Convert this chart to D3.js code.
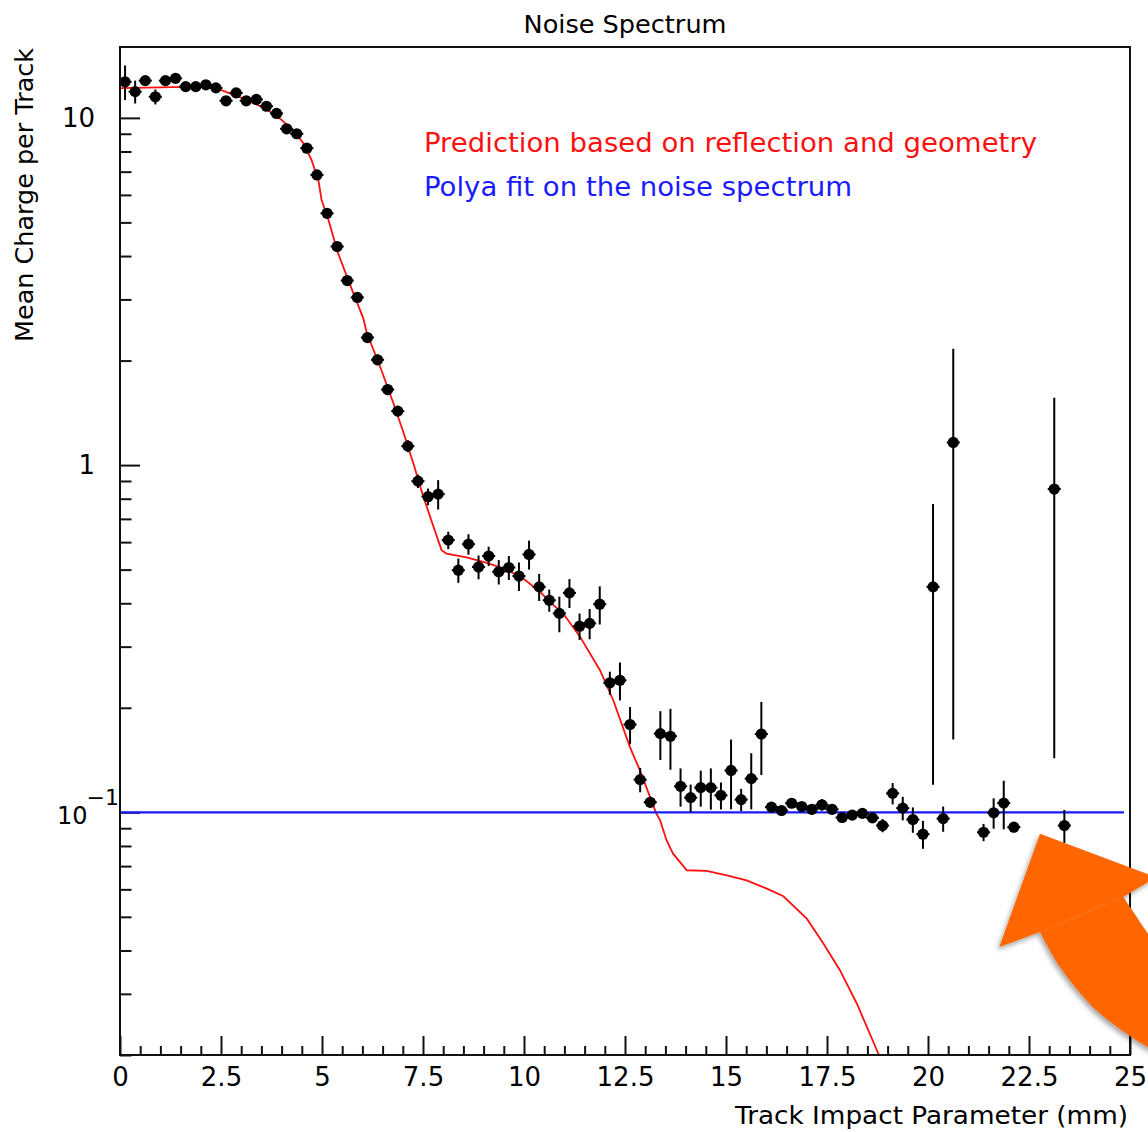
<!DOCTYPE html>
<html>
<head>
<meta charset="utf-8">
<script src="https://cdn.jsdelivr.net/npm/d3@7"></script>
<style>
  html, body { margin: 0; padding: 0; background: #fff; overflow: hidden; }
  svg { display: block; }
  text { font-family: "DejaVu Sans", "Liberation Sans", sans-serif; fill: #000; }
</style>
</head>
<body>
<script>
// ---- measured noise spectrum: bin centre (mm), mean charge, uncertainty ----
const impactParam = [
  0.125, 0.375, 0.625, 0.875, 1.125, 1.375, 1.625, 1.875, 2.125, 2.375,
  2.625, 2.875, 3.125, 3.375, 3.625, 3.875, 4.125, 4.375, 4.625, 4.875,
  5.125, 5.375, 5.625, 5.875, 6.125, 6.375, 6.625, 6.875, 7.125, 7.375,
  7.625, 7.875, 8.125, 8.375, 8.625, 8.875, 9.125, 9.375, 9.625, 9.875,
  10.125, 10.375, 10.625, 10.875, 11.125, 11.375, 11.625, 11.875, 12.125, 12.375,
  12.625, 12.875, 13.125, 13.375, 13.625, 13.875, 14.125, 14.375, 14.625, 14.875,
  15.125, 15.375, 15.625, 15.875, 16.125, 16.375, 16.625, 16.875, 17.125, 17.375,
  17.625, 17.875, 18.125, 18.375, 18.625, 18.875, 19.125, 19.375, 19.625, 19.875,
  20.125, 20.375, 20.625, 21.375, 21.625, 21.875, 22.125, 23.125, 23.375
];
const meanCharge = [
  12.7, 11.9, 12.8, 11.5, 12.8, 13.0, 12.3, 12.3, 12.45, 12.2,
  11.2, 11.8, 11.2, 11.3, 10.8, 10.3, 9.3, 9.0, 8.18, 6.85,
  5.31, 4.26, 3.40, 3.04, 2.33, 2.01, 1.65, 1.43, 1.134, 0.899,
  0.811, 0.825, 0.608, 0.498, 0.592, 0.509, 0.547, 0.493, 0.507, 0.479,
  0.553, 0.446, 0.408, 0.374, 0.4285, 0.3436, 0.350, 0.3975, 0.236, 0.240,
  0.179, 0.1242, 0.1069, 0.1685, 0.1656, 0.1188, 0.1102, 0.1178, 0.1178, 0.1119,
  0.132, 0.1088, 0.125, 0.168, 0.1035, 0.1012, 0.1062, 0.1039, 0.102, 0.1051,
  0.102, 0.0966, 0.0982, 0.0993, 0.0964, 0.0916, 0.1134, 0.1028, 0.0953, 0.0865,
  0.446, 0.0959, 1.162, 0.0876, 0.0997, 0.1063, 0.0906, 0.853, 0.0916
];
const chargeErr = [
  1.45, 0.9, 0.4, 0.57, 0.4, 0.4, 0.35, 0.35, 0.35, 0.35,
  0.35, 0.3, 0.3, 0.3, 0.3, 0.25, 0.25, 0.25, 0.25, 0.2,
  0.15, 0.12, 0.1, 0.09, 0.07, 0.07, 0.06, 0.05, 0.045, 0.04,
  0.045, 0.08, 0.035, 0.04, 0.04, 0.04, 0.035, 0.04, 0.04, 0.045,
  0.053, 0.04, 0.03, 0.044, 0.041, 0.03, 0.035, 0.05, 0.018, 0.03,
  0.022, 0.01, 0.004, 0.027, 0.033, 0.015, 0.01, 0.014, 0.016, 0.01,
  0.03, 0.008, 0.023, 0.04, 0.003, 0.003, 0.003, 0.003, 0.003, 0.004,
  0.003, 0.003, 0.003, 0.003, 0.003, 0.004, 0.008, 0.008, 0.008, 0.008,
  0.326, 0.008, 1.0, 0.005, 0.01, 0.017, 0.003, 0.71, 0.01
];
const binHalfWidth = 0.125;

// ---- prediction from reflection and geometry ----
const predX = [
  0, 1.98, 2.31, 2.64, 3.14, 3.63, 4.0, 4.29, 4.54, 4.74,
  4.91, 4.99, 5.16, 5.40, 5.65, 6.02, 6.11, 6.44, 6.77, 7.01,
  7.26, 7.51, 7.76, 7.96, 8.08, 8.58, 9.08, 9.57, 9.98, 10.40,
  10.64, 10.97, 11.39, 11.88, 12.21, 12.62, 12.87, 13.27, 13.37, 13.53,
  13.69, 14.03, 14.52, 15.02, 15.51, 16.01, 16.42, 17.0, 17.41, 17.82,
  18.24, 18.77, 18.9
];
const predY = [
  12.18, 12.31, 12.26, 11.86, 11.27, 10.59, 9.87, 9.19, 8.45, 7.57,
  6.63, 5.80, 5.08, 4.07, 3.41, 2.65, 2.40, 1.92, 1.505, 1.247,
  1.012, 0.81, 0.664, 0.569, 0.556, 0.542, 0.523, 0.5005, 0.4715, 0.4315,
  0.4036, 0.3737, 0.320, 0.2566, 0.2103, 0.1543, 0.132, 0.0995, 0.0948, 0.083,
  0.076, 0.0681, 0.0678, 0.0658, 0.0637, 0.0603, 0.0573, 0.0494, 0.0419, 0.0351,
  0.0281, 0.0202, 0.0188
];

// ---- Polya fit level on the noise spectrum ----
const polyaLevel = 0.1;
const polyaRange = [0, 24.85];

// ---- axis tick labels ----
const xTickValues = [0, 2.5, 5, 7.5, 10, 12.5, 15, 17.5, 20, 22.5, 25];
const xTickLabels = ["0", "2.5", "5", "7.5", "10", "12.5", "15", "17.5", "20", "22.5", "25"];
const yTickValues = [0.1, 1, 10];
const yTickLabels = ["10^-1", "1", "10"];

// ---- callout arrow outline (mm, mean charge) ----
const arrowHead = [[22.772, 0.08681], [25.644, 0.06498], [24.834, 0.05700], [22.772, 0.04519], [21.765, 0.04090]];
const arrowShaftLeft = [[22.772, 0.04519], [23.267, 0.03582], [24.084, 0.02747], [24.918, 0.02302], [25.446, 0.02107], [26.114, 0.01929], [26.98, 0.01746]];
const arrowShaftRight = [[24.834, 0.05700], [25.446, 0.04471], [25.99, 0.03622], [26.609, 0.02969], [27.228, 0.02515]];

const W = 1148, H = 1132;
const svg = d3.select("body").append("svg").attr("width", W).attr("height", H);

const x = d3.scaleLinear().domain([0, 25]).range([120, 1130]);
const y = d3.scaleLog().domain([0.02, 16]).range([1055, 47]);

const defs = svg.append("defs");
defs.append("clipPath").attr("id", "plot-clip")
  .append("rect").attr("x", 120).attr("y", 47).attr("width", 1010).attr("height", 1008);
const shadow = defs.append("filter").attr("id", "arrow-shadow")
  .attr("x", "-20%").attr("y", "-20%").attr("width", "140%").attr("height", "140%");
shadow.append("feDropShadow").attr("dx", -2).attr("dy", 3).attr("stdDeviation", 2.5)
  .attr("flood-color", "#000").attr("flood-opacity", 0.35);

// title
svg.append("text").attr("x", 625).attr("y", 33).attr("text-anchor", "middle")
  .attr("font-size", 25).attr("textLength", 203).attr("lengthAdjust", "spacingAndGlyphs")
  .text("Noise Spectrum");

// ---- axes ----
const axisStroke = "#111";
const xMinor = d3.range(0, 25.001, 0.5).filter(v => Math.abs(v / 2.5 - Math.round(v / 2.5)) > 1e-6);
const yMinor = [];
[0.01, 0.1, 1].forEach(d => { for (let m = 2; m <= 9; m++) { const v = d * m; if (v >= 0.02 && v <= 16) yMinor.push(v); } });

const gx = svg.append("g").attr("transform", "translate(0,1055)");
gx.call(d3.axisBottom(x).tickValues(xMinor).tickSize(-9).tickFormat(""));
gx.call(g => g.select(".domain").remove());
const gxMaj = svg.append("g").attr("transform", "translate(0,1055)");
gxMaj.call(d3.axisBottom(x).tickValues(xTickValues).tickSizeInner(-19).tickSizeOuter(0).tickPadding(13)
  .tickFormat((d, i) => xTickLabels[i]));
gxMaj.select(".domain").remove();
gxMaj.selectAll("text").attr("font-size", 26).attr("font-family", "DejaVu Sans");

const gy = svg.append("g").attr("transform", "translate(120,0)");
gy.call(d3.axisLeft(y).tickValues(yMinor).tickSize(-11.5).tickFormat(""));
gy.select(".domain").remove();
const gyMaj = svg.append("g").attr("transform", "translate(120,0)");
gyMaj.call(d3.axisLeft(y).tickValues(yTickValues).tickSizeInner(-20).tickSizeOuter(0).tickPadding(25)
  .tickFormat((d, i) => yTickLabels[i]));
gyMaj.select(".domain").remove();
gyMaj.selectAll("text").attr("font-size", 26).attr("font-family", "DejaVu Sans");
// power-of-ten label written with a superscript exponent
gyMaj.selectAll(".tick text").each(function () {
  const t = d3.select(this);
  const s = t.text();
  if (s.includes("^")) {
    const [base, exp] = s.split("^");
    t.text(null).attr("text-anchor", "start").attr("x", -63).attr("dy", "0.45em").attr("font-size", 24);
    t.append("tspan").text(base);
    t.append("tspan").attr("dy", -19).attr("dx", -1).attr("font-size", 22).text(exp.replace("-", "\u2212"));
  }
});
svg.selectAll(".tick line").attr("stroke", axisStroke).attr("stroke-width", 2);

// axis titles
svg.append("text").attr("x", 1128).attr("y", 1124).attr("text-anchor", "end")
  .attr("font-size", 25).attr("textLength", 393).attr("lengthAdjust", "spacingAndGlyphs")
  .text("Track Impact Parameter (mm)");
svg.append("text").attr("transform", "translate(33,48) rotate(-90)").attr("text-anchor", "end")
  .attr("font-size", 25).attr("textLength", 294).attr("lengthAdjust", "spacingAndGlyphs")
  .text("Mean Charge per Track");

// ---- curves ----
const plot = svg.append("g").attr("clip-path", "url(#plot-clip)");
const predLine = d3.line().x(d => x(d[0])).y(d => y(d[1]));
plot.append("path")
  .datum(predX.map((v, i) => [v, predY[i]]))
  .attr("d", predLine).attr("fill", "none").attr("stroke", "#ff1010").attr("stroke-width", 1.8);

plot.append("line")
  .attr("x1", x(polyaRange[0])).attr("x2", x(polyaRange[1]))
  .attr("y1", y(polyaLevel)).attr("y2", y(polyaLevel))
  .attr("stroke", "#1a1aff").attr("stroke-width", 2.2);

// ---- measured points with error bars ----
const pts = impactParam.map((v, i) => ({ x: v, y: meanCharge[i], e: chargeErr[i] }));
const pg = plot.append("g");
pg.selectAll("line.ey").data(pts).join("line").attr("class", "ey")
  .attr("x1", d => x(d.x)).attr("x2", d => x(d.x))
  .attr("y1", d => y(Math.max(d.y - d.e, 0.015))).attr("y2", d => y(d.y + d.e))
  .attr("stroke", "#000").attr("stroke-width", 2);
pg.selectAll("line.ex").data(pts).join("line").attr("class", "ex")
  .attr("x1", d => x(d.x - binHalfWidth) - 1.5).attr("x2", d => x(d.x + binHalfWidth) + 1.5)
  .attr("y1", d => y(d.y)).attr("y2", d => y(d.y))
  .attr("stroke", "#000").attr("stroke-width", 2);
pg.selectAll("circle").data(pts).join("circle")
  .attr("cx", d => x(d.x)).attr("cy", d => y(d.y)).attr("r", 5.6).attr("fill", "#000");

// legend text
svg.append("text").attr("x", 424).attr("y", 152).attr("font-size", 26)
  .attr("textLength", 613).attr("lengthAdjust", "spacingAndGlyphs")
  .style("fill", "#ff1010").text("Prediction based on reflection and geometry");
svg.append("text").attr("x", 424).attr("y", 196).attr("font-size", 26)
  .attr("textLength", 428).attr("lengthAdjust", "spacingAndGlyphs")
  .style("fill", "#1a1aff").text("Polya fit on the noise spectrum");

// frame
svg.append("rect").attr("x", 120).attr("y", 47).attr("width", 1010).attr("height", 1008)
  .attr("fill", "none").attr("stroke", axisStroke).attr("stroke-width", 2);

// ---- callout arrow ----
const arrowG = svg.append("g").attr("filter", "url(#arrow-shadow)");
arrowG.append("path")
  .attr("d", d3.line().x(d => x(d[0])).y(d => y(d[1])).curve(d3.curveLinearClosed)(arrowHead))
  .attr("fill", "#ff6600");
const edge = d3.line().x(d => x(d[0])).y(d => y(d[1])).curve(d3.curveCatmullRom);
const shaftD = edge(arrowShaftLeft) + "L" + edge(arrowShaftRight.slice().reverse()).slice(1) + "Z";
arrowG.append("path").attr("d", shaftD).attr("fill", "#ff6600");
</script>
</body>
</html>
